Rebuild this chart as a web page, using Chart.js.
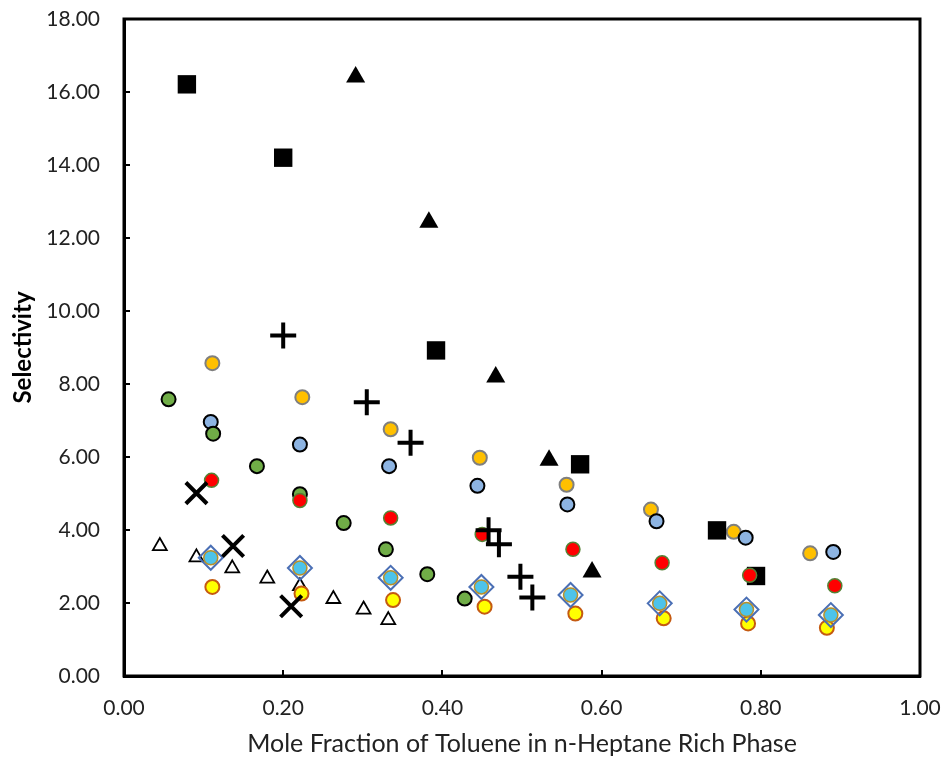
<!DOCTYPE html>
<html>
<head>
<meta charset="utf-8">
<script src="https://cdn.jsdelivr.net/npm/chart.js@4"></script>
<style>
  body { margin: 0; background: #fff; }
  #wrap { width: 945px; height: 759px; }
</style>
</head>
<body>
<div id="wrap"><canvas id="selChart" width="945" height="759"></canvas></div>
<script>
// values: [mole fraction, selectivity]
const squares = [[0.079, 16.21], [0.200, 14.20], [0.392, 8.92], [0.573, 5.80], [0.745, 3.99], [0.794, 2.74]];
const filledTriangles = [[0.291, 16.41], [0.383, 12.43], [0.467, 8.19], [0.534, 5.91], [0.588, 2.85]];
const plusSigns = [[0.200, 9.33], [0.305, 7.50], [0.360, 6.39], [0.458, 3.99], [0.471, 3.61], [0.498, 2.72], [0.513, 2.15]];
const crosses = [[0.091, 5.01], [0.137, 3.56], [0.210, 1.91]];
const openTriangles = [[0.045, 3.56], [0.091, 3.25], [0.136, 2.95], [0.180, 2.67], [0.221, 2.46], [0.263, 2.11], [0.301, 1.82], [0.332, 1.53]];
const greenPts = [[0.056, 7.58], [0.112, 6.64], [0.167, 5.75], [0.221, 4.98], [0.276, 4.19], [0.329, 3.47], [0.381, 2.79], [0.428, 2.12]];
const redPts = [[0.110, 5.36], [0.221, 4.81], [0.335, 4.33], [0.450, 3.88], [0.564, 3.47], [0.676, 3.10], [0.786, 2.76], [0.893, 2.47]];
const bluePts = [[0.109, 6.96], [0.221, 6.34], [0.333, 5.75], [0.444, 5.21], [0.557, 4.70], [0.669, 4.24], [0.781, 3.79], [0.891, 3.40]];
const orangePts = [[0.111, 8.57], [0.224, 7.64], [0.335, 6.76], [0.447, 5.98], [0.556, 5.24], [0.662, 4.56], [0.766, 3.95], [0.862, 3.36]];
const yellowPts = [[0.111, 2.44], [0.223, 2.26], [0.338, 2.08], [0.453, 1.90], [0.567, 1.71], [0.678, 1.58], [0.784, 1.44], [0.883, 1.32]];
const diamondPts = [[0.109, 3.24], [0.221, 2.96], [0.335, 2.69], [0.449, 2.44], [0.561, 2.22], [0.673, 1.99], [0.782, 1.82], [0.888, 1.67]];

const xTicks = [0, 0.2, 0.4, 0.6, 0.8, 1.0];
const yTicks = [0, 2, 4, 6, 8, 10, 12, 14, 16, 18];

const pts = arr => arr.map(p => ({ x: p[0], y: p[1] }));

// first dataset is painted last (on top)
const datasets = [
  { data: pts(plusSigns), pointStyle: 'cross', pointRadius: 13, borderColor: '#000', pointBorderWidth: 4 },
  { data: pts(crosses), pointStyle: 'crossRot', pointRadius: 15, borderColor: '#000', pointBorderWidth: 4 },
  { data: pts(diamondPts), pointStyle: 'circle', pointRadius: 7, backgroundColor: '#4dc3ea', borderColor: '#b8902a', pointBorderWidth: 1.5 },
  { data: pts(diamondPts), pointStyle: 'rectRot', pointRadius: 12, backgroundColor: 'rgba(0,0,0,0)', borderColor: '#4a6fb5', pointBorderWidth: 2 },
  { data: pts(yellowPts), pointStyle: 'circle', pointRadius: 7, backgroundColor: '#ffff00', borderColor: '#c55a11', pointBorderWidth: 2 },
  { data: pts(redPts), pointStyle: 'circle', pointRadius: 7, backgroundColor: '#ff0000', borderColor: '#548235', pointBorderWidth: 1.5 },
  { data: pts(squares), pointStyle: 'rect', pointRadius: 13, backgroundColor: '#000', borderColor: '#000', pointBorderWidth: 0 },
  { data: pts(filledTriangles), pointStyle: 'triangle', pointRadius: 11, backgroundColor: '#000', borderColor: '#000', pointBorderWidth: 0 },
  { data: pts(greenPts), pointStyle: 'circle', pointRadius: 7, backgroundColor: '#70ad47', borderColor: '#000', pointBorderWidth: 2 },
  { data: pts(bluePts), pointStyle: 'circle', pointRadius: 7, backgroundColor: '#8db4e2', borderColor: '#000', pointBorderWidth: 2 },
  { data: pts(orangePts), pointStyle: 'circle', pointRadius: 7, backgroundColor: '#ffc000', borderColor: '#7f7f7f', pointBorderWidth: 2 },
  { data: pts(openTriangles), pointStyle: 'triangle', pointRadius: 8, backgroundColor: '#fff', borderColor: '#000', pointBorderWidth: 1.8 }
];

const frame = {
  id: 'frame',
  beforeDatasetsDraw(chart) {
    const a = chart.chartArea, ctx = chart.ctx;
    ctx.save();
    ctx.strokeStyle = '#000';
    ctx.lineWidth = 3;
    ctx.strokeRect(a.left, a.top, a.right - a.left, a.bottom - a.top);
    ctx.restore();
  }
};

new Chart(document.getElementById('selChart'), {
  type: 'scatter',
  data: { datasets },
  plugins: [frame],
  options: {
    responsive: false,
    animation: false,
    layout: { padding: { top: 18, right: 25, left: 0, bottom: 0 } },
    plugins: { legend: { display: false }, tooltip: { enabled: false } },
    scales: {
      x: {
        min: 0, max: 1,
        afterBuildTicks: s => { s.ticks = xTicks.map(v => ({ value: v })); },
        afterFit: s => { s.height = 83; s.paddingLeft = 0; s.paddingRight = 0; },
        grid: { drawOnChartArea: false, tickLength: -6, color: '#000', lineWidth: 2 },
        border: { display: true, color: '#000', width: 3 },
        ticks: { padding: 26, color: '#222', font: { family: 'Lato', size: 21 }, callback: v => Number(v).toFixed(2) },
        title: { display: true, text: 'Mole Fraction of Toluene in n-Heptane Rich Phase', color: '#222', font: { family: 'Lato', size: 25 }, padding: { top: 0, bottom: 0 } }
      },
      y: {
        min: 0, max: 18,
        afterBuildTicks: s => { s.ticks = yTicks.map(v => ({ value: v })); },
        afterFit: s => { s.width = 124; s.paddingTop = 0; s.paddingBottom = 0; },
        grid: { drawOnChartArea: false, tickLength: -6, color: '#000', lineWidth: 2 },
        border: { display: true, color: '#000', width: 3 },
        ticks: { padding: 30, color: '#222', font: { family: 'Lato', size: 21 }, callback: v => Number(v).toFixed(2) },
        title: { display: true, text: 'Selectivity', color: '#000', font: { family: 'Lato', size: 24, weight: 'bold' }, padding: { top: 9, bottom: 0 } }
      }
    }
  }
});
</script>
</body>
</html>
